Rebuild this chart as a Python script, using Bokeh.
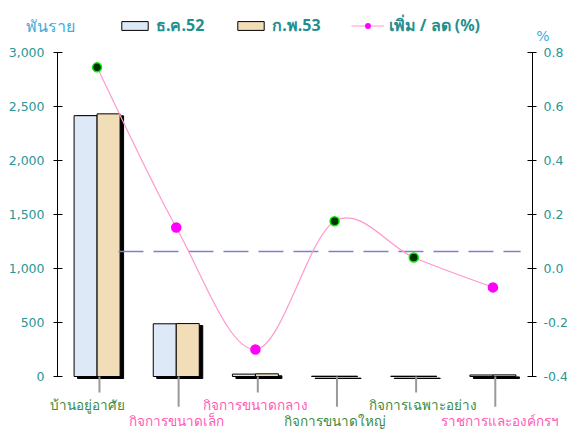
import numpy as np
from bokeh.plotting import figure
from bokeh.models import (Range1d, LinearAxis, FixedTicker, NumeralTickFormatter,
                          ColumnDataSource, Legend, LegendItem, LabelSet, Label)
from bokeh.core.properties import value
from bokeh.embed import file_html
from bokeh.resources import INLINE

# ---------------- data ----------------
categories = ["บ้านอยู่อาศัย", "กิจการขนาดเล็ก", "กิจการขนาดกลาง",
              "กิจการขนาดใหญ่", "กิจการเฉพาะอย่าง", "ราชการและองค์กรฯ"]
dec52 = [2415, 488, 22, 3, 3, 14]          # thousand
feb53 = [2432, 490, 25, 3, 3, 15]          # thousand
change_pct = [0.745, 0.152, -0.300, 0.175, 0.041, -0.070]
avg_change_pct = 0.063
left_ticks = [0, 500, 1000, 1500, 2000, 2500, 3000]
right_ticks = [-0.4, -0.2, 0.0, 0.2, 0.4, 0.6, 0.8]
series_names = ["ธ.ค.52", "ก.พ.53", "เพิ่ม / ลด (%)"]
unit_left = "พันราย"
unit_right = "%"

# ---------------- styles / layout ----------------
W, H = 567, 432
AX_L, AX_R = 57, 532               # pixel x of the two value axes
ZERO_PX = 376                      # pixel y of the 0 line
PX_PER_UNIT = 324.0 / 3000.0
LEFT_MAX, RIGHT_MIN, RIGHT_MAX = 3000, -0.4, 0.8
scale_r = (RIGHT_MAX - RIGHT_MIN) / LEFT_MAX

n = len(categories)
px_per_cat = (AX_R - AX_L) / n
x_start = -AX_L / px_per_cat
x_end = n + (W - AX_R) / px_per_cat
y_start = -(H - ZERO_PX) / PX_PER_UNIT
y_end = ZERO_PX / PX_PER_UNIT

TEAL = "#2a9696"
BLUE_FILL = "#dde9f7"
TAN_FILL = "#f1ddb8"
PINK_LINE = "#ff99cc"
LABEL_COLORS = ["#3d8b3d", "#ff5ab4", "#ff5ab4", "#3d8b3d", "#3d8b3d", "#ff5ab4"]
LABEL_DX_PX = [-10, 0, 0, 0, 9, 7]
MARK_FILL = ["#003300", "#ff00ff", "#ff00ff", "#003300", "#003300", "#ff00ff"]
MARK_LINE = ["#00ee00", "#ff00ff", "#ff00ff", "#00ee00", "#00ee00", "#ff00ff"]
FONT = "DejaVu Sans"
THAI_FONT = "Noto Sans"

centers = np.arange(n) + 0.5
bw = 23.0 / px_per_cat             # bar width in x units
dx_sh = 3.5 / px_per_cat
dy_sh = 2.0 / PX_PER_UNIT

p = figure(width=W, height=H, output_backend="svg", toolbar_location=None,
           x_range=Range1d(x_start, x_end), y_range=Range1d(y_start, y_end),
           x_axis_location=None, min_border=0)
p.outline_line_color = None
p.grid.visible = False
p.background_fill_color = "white"

# left axis (drawn at x = 0, no extra panel space)
ya = p.yaxis[0]
ya.fixed_location = 0
ya.bounds = (0, LEFT_MAX)
ya.ticker = FixedTicker(ticks=left_ticks)
ya.formatter = NumeralTickFormatter(format="0,0")
ya.major_tick_in = 5
ya.major_tick_out = 4
ya.minor_tick_line_color = None
ya.major_label_standoff = 9
ya.major_label_text_color = TEAL
ya.major_label_text_font = FONT
ya.major_label_text_font_size = "12.5px"
ya.axis_line_color = "black"

# right axis (drawn at x = n)
p.extra_y_ranges = {"pct": Range1d(y_start * scale_r + RIGHT_MIN, y_end * scale_r + RIGHT_MIN)}
ra = LinearAxis(y_range_name="pct", bounds=(RIGHT_MIN, RIGHT_MAX), fixed_location=n,
                ticker=FixedTicker(ticks=right_ticks),
                formatter=NumeralTickFormatter(format="0.0"))
ra.major_tick_in = 5
ra.major_tick_out = 4
ra.minor_tick_line_color = None
ra.major_label_standoff = 7
ra.major_label_text_color = TEAL
ra.major_label_text_font = FONT
ra.major_label_text_font_size = "12.5px"
p.add_layout(ra, "right")

# bars
src = ColumnDataSource(dict(
    xb=centers - bw / 2, xt=centers + bw / 2,
    dec=dec52, feb=feb53,
    sl=centers - bw + dx_sh, sr=centers + bw + dx_sh,
    st=np.maximum(dec52, feb53) - dy_sh, sb=[-dy_sh] * n,
))
p.quad(left="sl", right="sr", top="st", bottom="sb", source=src,
       fill_color="black", line_color="black")
r_dec = p.vbar(x="xb", width=bw, top="dec", bottom=0, source=src,
               fill_color=BLUE_FILL, line_color="black", line_width=1)
r_feb = p.vbar(x="xt", width=bw, top="feb", bottom=0, source=src,
               fill_color=TAN_FILL, line_color="black", line_width=1)

# category ticks and labels
tick_len = [148 if i % 2 == 0 else 280 for i in range(n)]
p.segment(x0=centers + 0.03, y0=[0] * n, x1=centers + 0.03,
          y1=[-t for t in tick_len], line_color="#999999", line_width=2)
lab_src = ColumnDataSource(dict(
    x=centers + np.array(LABEL_DX_PX) / px_per_cat,
    y=[-268 if i % 2 == 0 else -408 for i in range(n)],
    text=categories, color=LABEL_COLORS))
p.add_layout(LabelSet(x="x", y="y", text="text", source=lab_src,
                      text_color="color", text_align="center",
                      text_baseline="middle", text_font=value(THAI_FONT),
                      text_font_size="13.5px"))

# average dashed line
p.line(x=[centers[0] + 0.27, centers[-1] + 0.35], y=[avg_change_pct] * 2,
       y_range_name="pct", line_color="#7f7fd0", line_width=1.5, line_dash="25 10")

# smooth % change curve (Catmull-Rom -> cubic bezier)
xs = list(centers)
ys = list(change_pct)
x0, y0, x1, y1, cx0, cy0, cx1, cy1 = ([] for _ in range(8))
for i in range(n - 1):
    xa, ya_ = (xs[i - 1], ys[i - 1]) if i > 0 else (xs[i], ys[i])
    xb_, yb = xs[i], ys[i]
    xc, yc = xs[i + 1], ys[i + 1]
    xd, yd = (xs[i + 2], ys[i + 2]) if i + 2 < n else (xs[i + 1], ys[i + 1])
    x0.append(xb_); y0.append(yb); x1.append(xc); y1.append(yc)
    cx0.append(xb_ + (xc - xa) / 6); cy0.append(yb + (yc - ya_) / 6)
    cx1.append(xc - (xd - xb_) / 6); cy1.append(yc - (yd - yb) / 6)
p.bezier(x0=x0, y0=y0, x1=x1, y1=y1, cx0=cx0, cy0=cy0, cx1=cx1, cy1=cy1,
         y_range_name="pct", line_color=PINK_LINE, line_width=1.2)
# legend proxy for the line (draws nothing in the plot)
r_leg_line = p.line(x=[np.nan] * n, y=[np.nan] * n, y_range_name="pct",
                    line_color=PINK_LINE, line_width=1.2)
pt_src = ColumnDataSource(dict(x=centers, y=change_pct, fc=MARK_FILL, lc=MARK_LINE))
r_pts = p.scatter(x="x", y="y", source=pt_src, y_range_name="pct", size=9,
                  fill_color="fc", line_color="lc", line_width=1.5)

# legend
legend = Legend(items=[
    LegendItem(label=series_names[0], renderers=[r_dec]),
    LegendItem(label=series_names[1], renderers=[r_feb]),
    LegendItem(label=series_names[2], renderers=[r_leg_line, r_pts], index=1),
], location=(118, 394), orientation="horizontal", padding=0, margin=0,
    spacing=30, label_standoff=5, glyph_width=33, glyph_height=11,
    background_fill_alpha=0, border_line_color=None,
    label_text_color="#1f8f8f", label_text_font=THAI_FONT,
    label_text_font_size="16px", label_text_font_style="bold")
p.add_layout(legend)

# unit labels
p.add_layout(Label(x=-0.093, y=3250, text=unit_left, text_align="center",
                   text_baseline="middle", text_color="#3aaedc",
                   text_font=THAI_FONT, text_font_size="16px"))
p.add_layout(Label(x=6.13, y=3150, text=unit_right, text_align="center",
                   text_baseline="middle", text_color="#3aaedc",
                   text_font=FONT, text_font_size="14px"))

open("out.html", "w").write(file_html(p, INLINE))
